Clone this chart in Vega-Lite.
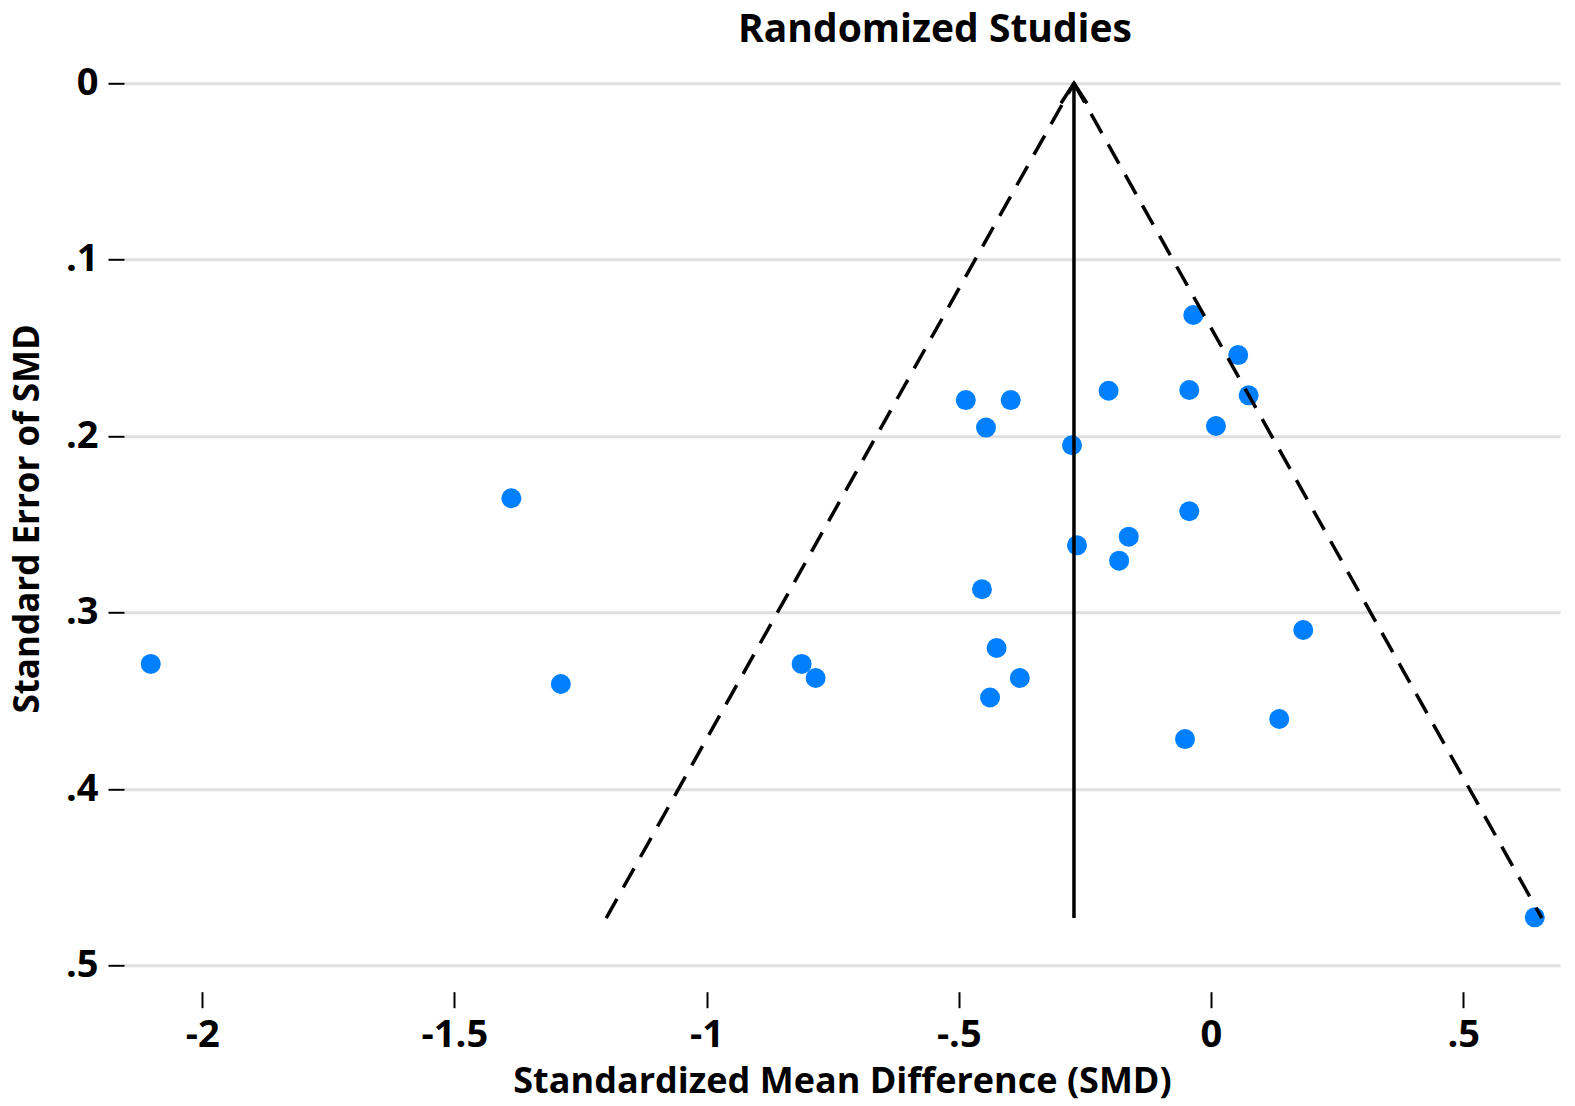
{
  "$schema": "https://vega.github.io/schema/vega-lite/v6.json",
  "width": 1436,
  "height": 882.4,
  "autosize": {"type": "none"},
  "padding": {"left": 124, "top": 83.3, "right": 15, "bottom": 140.3},
  "background": "white",
  "config": {
    "view": {"stroke": null},
    "font": "Open Sans"
  },
  "title": {
    "text": "Randomized Studies",
    "font": "Open Sans",
    "fontSize": 39,
    "fontWeight": 700,
    "color": "black",
    "anchor": "middle",
    "dx": 93,
    "dy": 42,
    "baseline": "alphabetic",
    "offset": 25
  },
  "datasets": {
    "studies": [
      {"smd": -2.102, "se": 0.329},
      {"smd": -1.387, "se": 0.2351},
      {"smd": -1.289, "se": 0.3404},
      {"smd": -0.8115, "se": 0.329},
      {"smd": -0.7838, "se": 0.337},
      {"smd": -0.486, "se": 0.1795},
      {"smd": -0.397, "se": 0.1795},
      {"smd": -0.446, "se": 0.1951},
      {"smd": -0.454, "se": 0.2867},
      {"smd": -0.425, "se": 0.320},
      {"smd": -0.379, "se": 0.337},
      {"smd": -0.438, "se": 0.348},
      {"smd": -0.2755, "se": 0.2051},
      {"smd": -0.2656, "se": 0.2618},
      {"smd": -0.203, "se": 0.1742},
      {"smd": -0.163, "se": 0.2569},
      {"smd": -0.182, "se": 0.2705},
      {"smd": -0.035, "se": 0.1313},
      {"smd": 0.054, "se": 0.154},
      {"smd": -0.043, "se": 0.1738},
      {"smd": 0.0747, "se": 0.1768},
      {"smd": 0.0099, "se": 0.1942},
      {"smd": -0.043, "se": 0.2425},
      {"smd": -0.0515, "se": 0.3716},
      {"smd": 0.1354, "se": 0.3602},
      {"smd": 0.183, "se": 0.3098},
      {"smd": 0.642, "se": 0.4726}
    ],
    "funnel": [
      {"side": "left", "smd": -0.2716, "se": 0},
      {"side": "left", "smd": -1.199, "se": 0.473},
      {"side": "right", "smd": -0.2716, "se": 0},
      {"side": "right", "smd": 0.656, "se": 0.473}
    ],
    "pooled": [
      {"smd": -0.2716, "se": 0, "se2": 0.473}
    ]
  },
  "encoding": {
    "x": {
      "field": "smd",
      "type": "quantitative",
      "scale": {"domain": [-2.155, 0.692], "nice": false, "zero": false},
      "axis": {
        "title": "Standardized Mean Difference (SMD)",
        "values": [-2, -1.5, -1, -0.5, 0, 0.5],
        "labelExpr": "datum.value == -2 ? '-2' : datum.value == -1.5 ? '-1.5' : datum.value == -1 ? '-1' : datum.value == -0.5 ? '-.5' : datum.value == 0 ? '0' : '.5'",
        "grid": false,
        "domain": false,
        "offset": 26,
        "ticks": true,
        "tickSize": 16,
        "tickWidth": 2,
        "tickColor": "black",
        "labelFont": "Open Sans",
        "labelFontSize": 38,
        "labelFontWeight": 700,
        "labelColor": "black",
        "labelPadding": 9,
        "labelFlush": false,
        "titleFont": "Open Sans",
        "titleFontSize": 36,
        "titleFontWeight": 700,
        "titleColor": "black",
        "titlePadding": 10
      }
    },
    "y": {
      "field": "se",
      "type": "quantitative",
      "scale": {"domain": [0, 0.5], "reverse": true, "nice": false, "zero": false},
      "axis": {
        "title": "Standard Error of SMD",
        "values": [0, 0.1, 0.2, 0.3, 0.4, 0.5],
        "labelExpr": "datum.value == 0 ? '0' : '.' + round(datum.value * 10)",
        "grid": true,
        "gridColor": "#e0e0e0",
        "gridWidth": 3,
        "domain": false,
        "ticks": true,
        "tickSize": 16,
        "tickWidth": 2,
        "tickColor": "black",
        "labelFont": "Open Sans",
        "labelFontSize": 38,
        "labelFontWeight": 700,
        "labelColor": "black",
        "labelPadding": 10,
        "labelFlush": false,
        "titleFont": "Open Sans",
        "titleFontSize": 35,
        "titleFontWeight": 700,
        "titleColor": "black",
        "titleAngle": -90,
        "titleBaseline": "alphabetic",
        "titleAlign": "center",
        "titleX": -86,
        "titleY": 435
      }
    }
  },
  "layer": [
    {
      "data": {"name": "studies"},
      "mark": {"type": "circle", "size": 400, "color": "#0080ff", "opacity": 1}
    },
    {
      "data": {"name": "funnel"},
      "mark": {"type": "line", "color": "black", "strokeWidth": 3.5, "strokeDash": [22, 13]},
      "encoding": {"detail": {"field": "side", "type": "nominal"}}
    },
    {
      "data": {"name": "pooled"},
      "mark": {"type": "rule", "color": "black", "strokeWidth": 3.5},
      "encoding": {"y2": {"field": "se2"}}
    },
    {
      "data": {"name": "pooled"},
      "mark": {"type": "point", "shape": "M-0.65,1L0,0L0.65,1", "size": 1600, "filled": false, "stroke": "black", "strokeWidth": 3.5, "opacity": 1}
    }
  ]
}
